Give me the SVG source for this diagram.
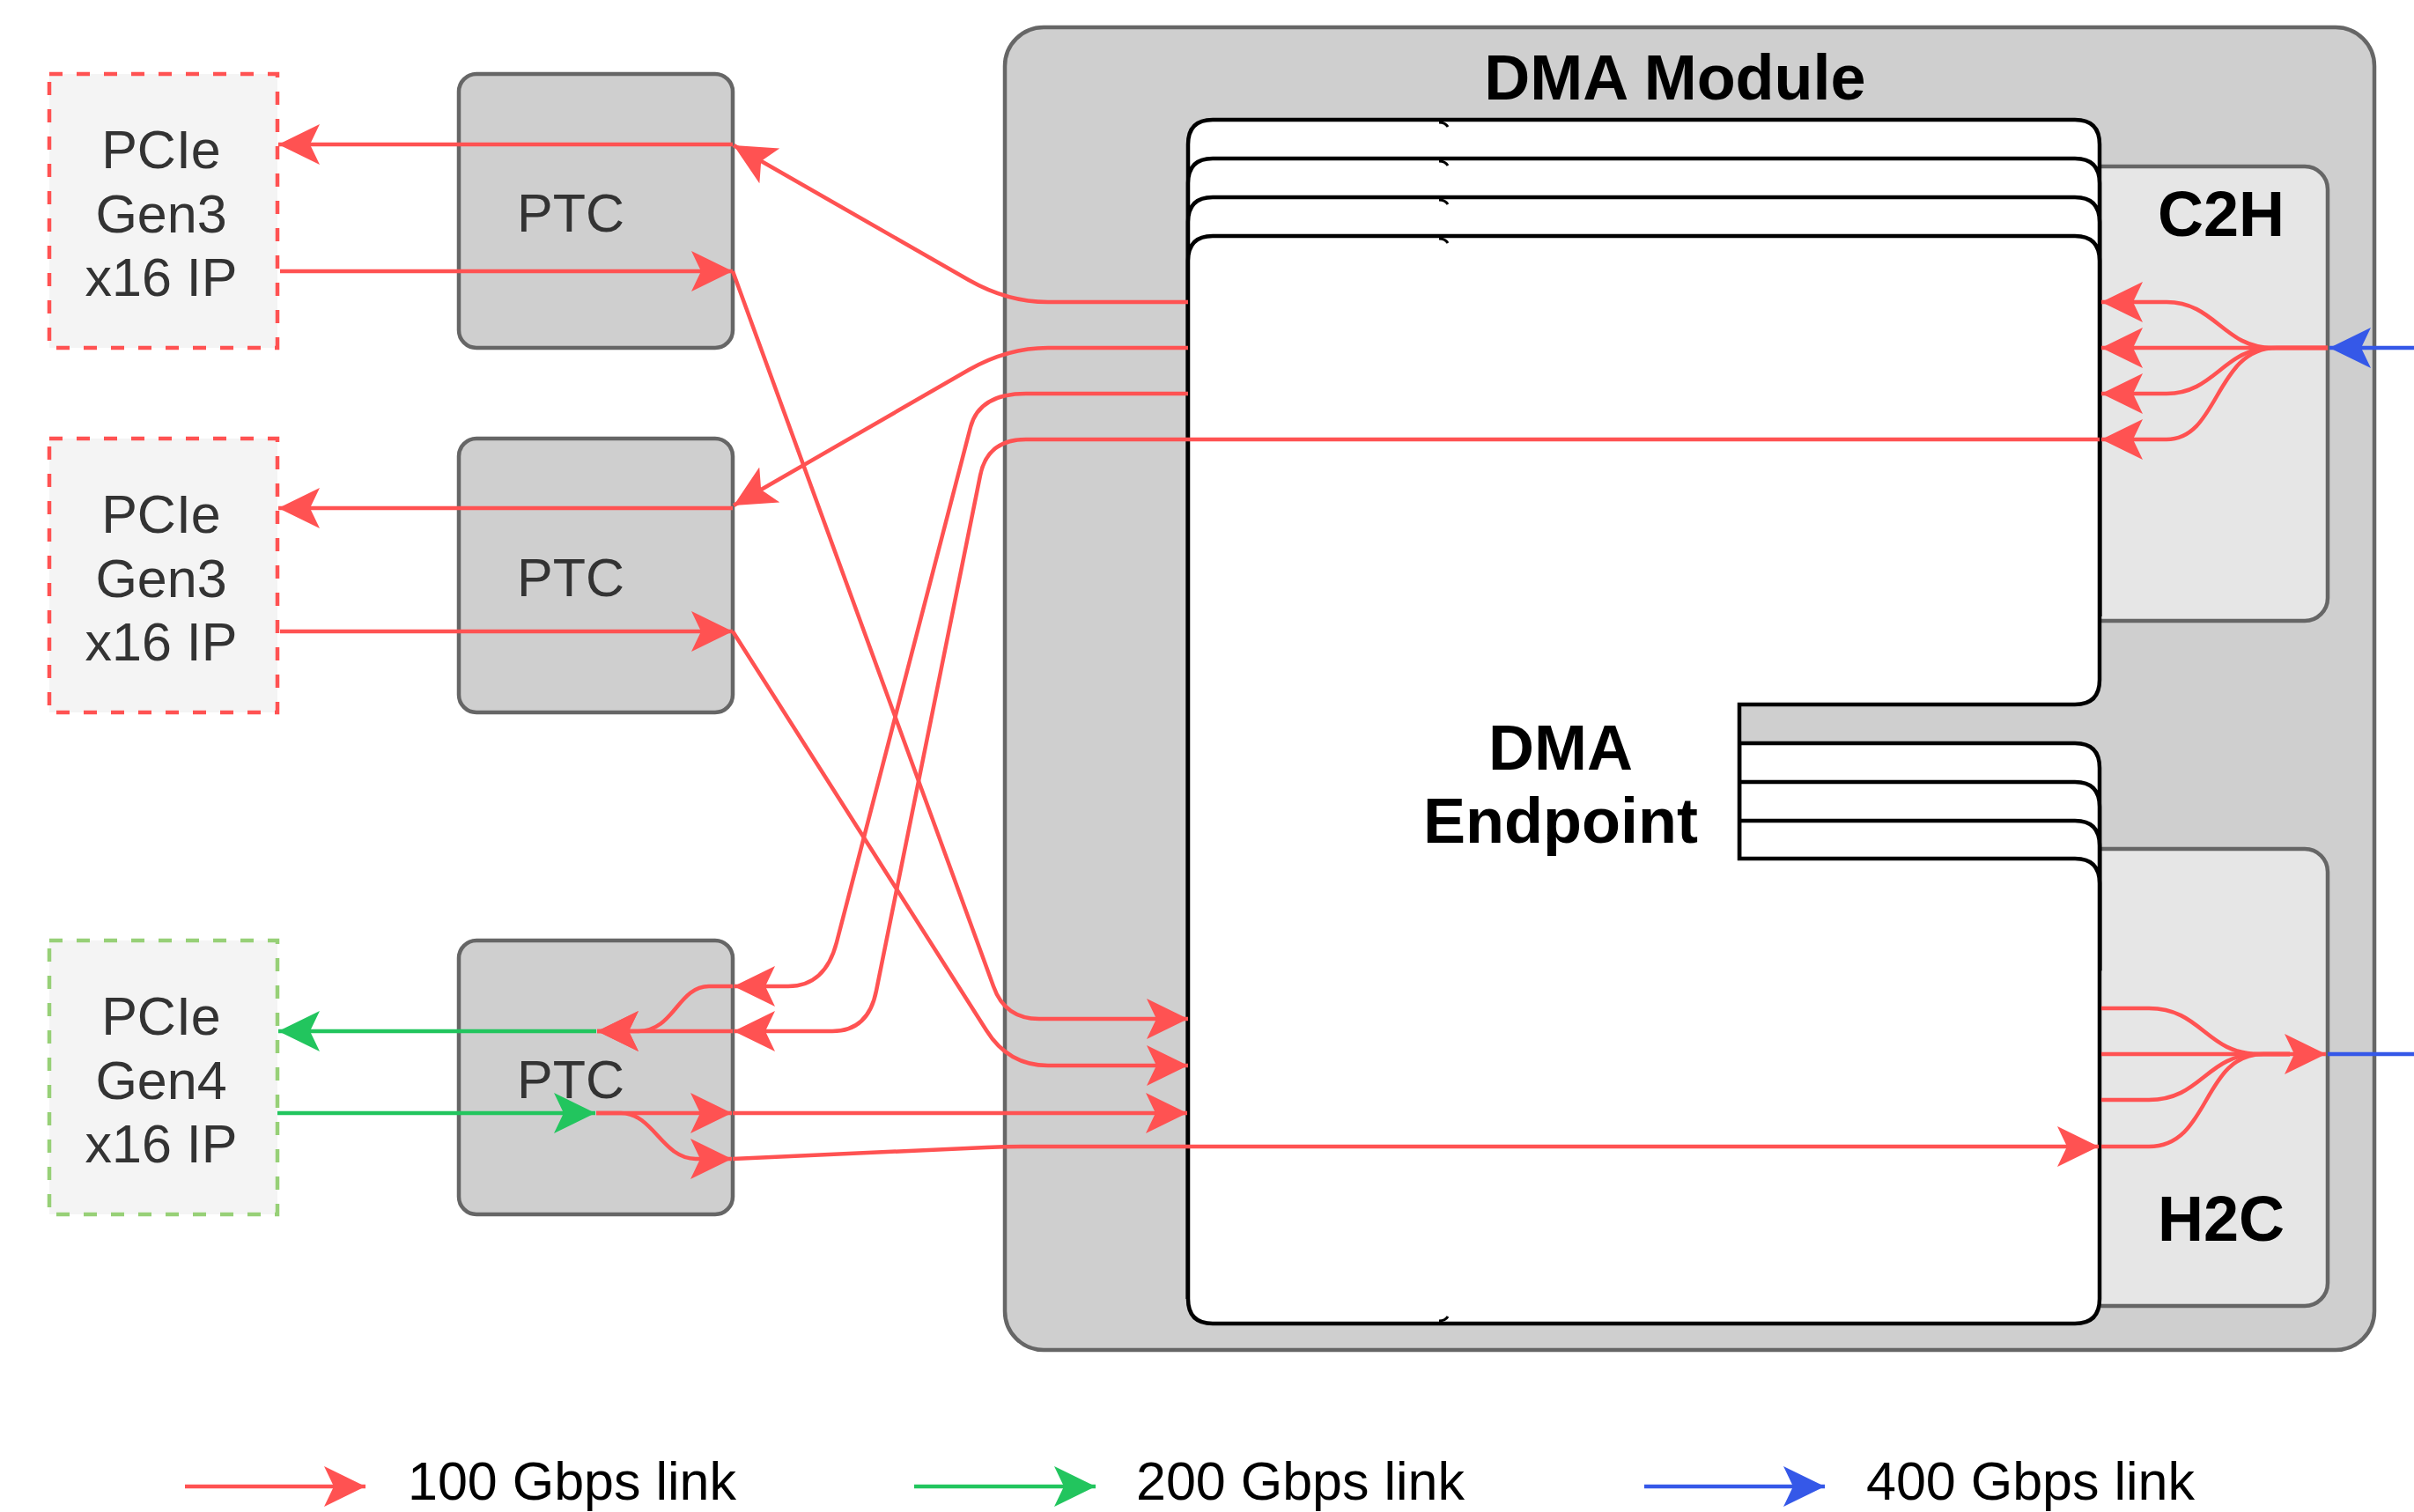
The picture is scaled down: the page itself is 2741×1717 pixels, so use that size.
<svg xmlns="http://www.w3.org/2000/svg" width="2741" height="1717" viewBox="0 0 2741 1717">
<defs>
<style>
.pcie{fill:#f4f4f4;stroke-width:4.5;stroke-dasharray:15 16}
.ptc{fill:#cfcfcf;stroke:#666;stroke-width:4.5}
.t{font-family:"Liberation Sans",Arial,Helvetica,sans-serif;font-size:61px;fill:#333;text-anchor:middle}
.b{font-family:"Liberation Sans",Arial,Helvetica,sans-serif;font-size:72px;font-weight:bold;fill:#000;text-anchor:middle}
.lg{font-family:"Liberation Sans",Arial,Helvetica,sans-serif;font-size:61px;fill:#000}
.ep{fill:#fff;stroke:#000;stroke-width:4.5}
.epf{fill:#fff}
.eps{fill:none;stroke:#000;stroke-width:4.5}
.sub{fill:#e6e6e6;stroke:#666;stroke-width:4.5}
.r{fill:none;stroke:#ff5252;stroke-width:4.5}
.g{fill:none;stroke:#22c55e;stroke-width:4.5}
.bl{fill:none;stroke:#3558e8;stroke-width:4.5}
</style>
<marker id="ar" viewBox="0 0 48 48" refX="47" refY="24" markerWidth="48" markerHeight="48" markerUnits="userSpaceOnUse" orient="auto"><path d="M47,24 L0,1 L11,24 L0,47 Z" fill="#ff5252"/></marker>
<marker id="ag" viewBox="0 0 48 48" refX="47" refY="24" markerWidth="48" markerHeight="48" markerUnits="userSpaceOnUse" orient="auto"><path d="M47,24 L0,1 L11,24 L0,47 Z" fill="#22c55e"/></marker>
<marker id="ab" viewBox="0 0 48 48" refX="47" refY="24" markerWidth="48" markerHeight="48" markerUnits="userSpaceOnUse" orient="auto"><path d="M47,24 L0,1 L11,24 L0,47 Z" fill="#3558e8"/></marker>
</defs>
<rect x="0" y="0" width="2741" height="1717" fill="#fff"/>

<g id="dma-module">
<rect x="1141" y="31" width="1555" height="1502" rx="44" fill="#cfcfcf" stroke="#666" stroke-width="4.5"/>
<text class="b" x="1902" y="113">DMA Module</text>
</g>

<g id="c2h">
<rect class="sub" x="2300" y="189" width="343" height="516" rx="26"/>
<text class="b" x="2522" y="268">C2H</text>
</g>
<g id="h2c">
<rect class="sub" x="2300" y="964" width="343" height="519" rx="26"/>
<text class="b" x="2522" y="1409">H2C</text>
</g>

<g id="dma-endpoint">
<rect class="epf" x="1349" y="136" width="1035" height="564" rx="28"/>
<path class="eps" d="M1349,1475 V164 Q1349,136 1377,136 H2356 Q2384,136 2384,164 V700"/>
<rect class="epf" x="1349" y="180" width="1035" height="520" rx="28"/>
<path class="eps" d="M1349,1475 V208 Q1349,180 1377,180 H2356 Q2384,180 2384,208 V700"/>
<rect class="epf" x="1349" y="224" width="1035" height="476" rx="28"/>
<path class="eps" d="M1349,1475 V252 Q1349,224 1377,224 H2356 Q2384,224 2384,252 V700"/>
<path class="ep" d="M1975,844 H2356 Q2384,844 2384,872 V1100 H1975 Z"/>
<path class="ep" d="M1975,888 H2356 Q2384,888 2384,916 V1100 H1975 Z"/>
<path class="ep" d="M1975,932 H2356 Q2384,932 2384,960 V1100 H1975 Z"/>
<path class="ep" d="M1349,296 Q1349,268 1377,268 H2356 Q2384,268 2384,296 V772 Q2384,800 2356,800 H1975 V975 H2356 Q2384,975 2384,1003 V1475 Q2384,1503 2356,1503 H1377 Q1349,1503 1349,1475 Z"/>
<g fill="none" stroke="#000" stroke-width="3">
<path d="M1634,139 q7,0 10,5"/>
<path d="M1634,183 q7,0 10,5"/>
<path d="M1634,227 q7,0 10,5"/>
<path d="M1634,271 q7,0 10,5"/>
<path d="M1634,1500 q7,0 10,-5"/>
</g>
<text class="b" x="1772" y="874">DMA</text>
<text class="b" x="1772" y="957">Endpoint</text>
</g>

<g id="pcie1">
<rect class="pcie" x="56" y="84" width="259" height="311" stroke="#ff5252"/>
<text class="t" x="183" y="191">PCIe</text>
<text class="t" x="183" y="264">Gen3</text>
<text class="t" x="183" y="336">x16 IP</text>
</g>
<g id="pcie2">
<rect class="pcie" x="56" y="498" width="259" height="311" stroke="#ff5252"/>
<text class="t" x="183" y="605">PCIe</text>
<text class="t" x="183" y="678">Gen3</text>
<text class="t" x="183" y="750">x16 IP</text>
</g>
<g id="pcie3">
<rect class="pcie" x="56" y="1068" width="259" height="311" stroke="#97d077"/>
<text class="t" x="183" y="1175">PCIe</text>
<text class="t" x="183" y="1248">Gen4</text>
<text class="t" x="183" y="1320">x16 IP</text>
</g>

<g id="ptc1">
<rect class="ptc" x="521" y="84" width="311" height="311" rx="20"/>
<text class="t" x="648" y="263">PTC</text>
</g>
<g id="ptc2">
<rect class="ptc" x="521" y="498" width="311" height="311" rx="20"/>
<text class="t" x="648" y="677">PTC</text>
</g>
<g id="ptc3">
<rect class="ptc" x="521" y="1068" width="311" height="311" rx="20"/>
<text class="t" x="648" y="1247">PTC</text>
</g>

<g id="connectors">
<path class="r" marker-end="url(#ar)" d="M832,164 L316,164"/>
<path class="r" marker-end="url(#ar)" d="M318,308 L832,308"/>
<path class="r" marker-end="url(#ar)" d="M1349,343 L1190,343 Q1144,343 1100,318 L833,165"/>
<path class="r" marker-end="url(#ar)" d="M1349,395 L1190,395 Q1144,395 1100,420 L833,574"/>
<path class="r" marker-end="url(#ar)" d="M832,577 L316,577"/>
<path class="r" marker-end="url(#ar)" d="M318,717 L832,717"/>
<path class="r" marker-end="url(#ar)" d="M832,308 L1128,1120 Q1141,1157 1180,1157 L1349,1157"/>
<path class="r" marker-end="url(#ar)" d="M832,717 L1120,1170 Q1145,1210 1190,1210 L1349,1210"/>
<path class="r" marker-end="url(#ar)" d="M1349,447 L1165,447 Q1112,447 1102,485 L950,1070 Q937,1120 895,1120 L833,1120"/>
<path class="r" marker-end="url(#ar)" d="M2384,499 L1165,499 Q1121,499 1113,540 L995,1125 Q986,1171 945,1171 L833,1171"/>
<path class="r" marker-end="url(#ar)" d="M832,1120 L805,1120 C770,1120 765,1171 725,1171 L678,1171"/>
<path class="r" marker-end="url(#ar)" d="M832,1171 L678,1171"/>
<path class="r" marker-end="url(#ar)" d="M677,1264 L831,1264"/>
<path class="r" marker-end="url(#ar)" d="M677,1264 L705,1264 C742,1264 752,1316 790,1316 L831,1316"/>
<path class="r" marker-end="url(#ar)" d="M832,1264 L1348,1264"/>
<path class="r" marker-end="url(#ar)" d="M832,1316 L1120,1303 Q1140,1302 1160,1302 L2383,1302"/>
<path class="r" marker-end="url(#ar)" d="M2643,395 L2580,395 C2525,395 2515,343 2460,343 L2386,343"/>
<path class="r" marker-end="url(#ar)" d="M2643,395 L2386,395"/>
<path class="r" marker-end="url(#ar)" d="M2643,395 L2580,395 C2525,395 2515,447 2460,447 L2386,447"/>
<path class="r" marker-end="url(#ar)" d="M2643,395 L2585,395 C2515,395 2520,499 2460,499 L2386,499"/>
<path class="r" d="M2386,1145 L2440,1145 C2500,1145 2505,1197 2565,1197 L2600,1197"/>
<path class="r" d="M2386,1249 L2440,1249 C2500,1249 2505,1197 2565,1197 L2600,1197"/>
<path class="r" d="M2386,1302 L2440,1302 C2510,1302 2500,1197 2570,1197 L2600,1197"/>
<path class="r" marker-end="url(#ar)" d="M2386,1197 L2641,1197"/>
<path class="g" marker-end="url(#ag)" d="M677,1171 L316,1171"/>
<path class="g" marker-end="url(#ag)" d="M315,1264 L676,1264"/>
<path class="bl" marker-end="url(#ab)" d="M2741,395 L2645,395"/>
<path class="bl" d="M2643,1197 L2741,1197"/>
</g>

<g id="legend">
<path class="r" marker-end="url(#ar)" d="M210,1688 L415,1688"/>
<text class="lg" x="463" y="1703">100 Gbps link</text>
<path class="g" marker-end="url(#ag)" d="M1038,1688 L1244,1688"/>
<text class="lg" x="1290" y="1703">200 Gbps link</text>
<path class="bl" marker-end="url(#ab)" d="M1867,1688 L2072,1688"/>
<text class="lg" x="2119" y="1703">400 Gbps link</text>
</g>
</svg>
